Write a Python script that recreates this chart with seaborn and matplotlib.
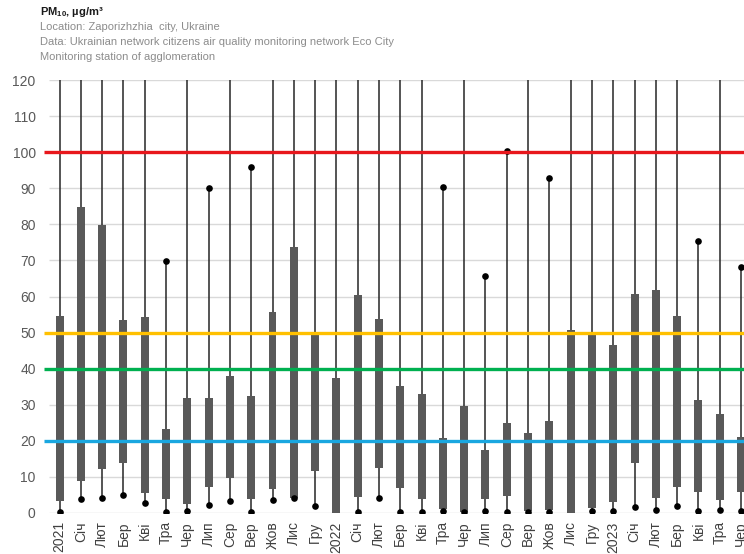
import numpy as np
import pandas as pd
import matplotlib
matplotlib.use("Agg")
import matplotlib.pyplot as plt
import seaborn as sns

# Monthly PM10 statistics, Zaporizhzhia agglomeration station (µg/m³)
periods = ["2021", "Січ", "Лют", "Бер", "Кві", "Тра", "Чер", "Лип", "Сер", "Вер", "Жов", "Лис", "Гру",
           "2022", "Січ", "Лют", "Бер", "Кві", "Тра", "Чер", "Лип", "Сер", "Вер", "Жов", "Лис", "Гру",
           "2023", "Січ", "Лют", "Бер", "Кві", "Тра", "Чер"]
box_low = [3.4, 8.8, 12.2, 13.8, 5.6, 4.0, 2.5, 7.1, 9.6, 3.8, 6.6, 4.2, 11.6,
           0.0, 4.5, 12.4, 7.0, 3.8, 1.1, 0.3, 3.9, 4.7, 0.6, 0.8, 0.0, 1.3,
           3.1, 13.8, 4.2, 7.1, 5.8, 3.6, 5.7]
box_high = [54.6, 84.7, 79.9, 53.5, 54.4, 23.2, 31.9, 31.9, 38.0, 32.5, 55.6, 73.8, 49.8,
            37.3, 60.4, 53.8, 35.1, 33.0, 20.9, 29.7, 17.4, 24.9, 22.1, 25.6, 50.7, 49.3,
            46.6, 60.6, 61.8, 54.7, 31.3, 27.5, 21.0]
minimum = [0.3, 3.8, 4.1, 5.1, 2.9, 0.3, 0.5, 2.2, 3.2, 0.3, 3.6, 4.1, 1.9,
           None, 0.3, 4.2, 0.3, 0.3, 0.5, 0.2, 0.5, 0.2, 0.2, 0.2, None, 0.5,
           0.5, 1.8, 0.8, 1.9, 0.6, 0.7, 0.5]
# None = maximum lies above the 120 µg/m³ axis limit
maximum = [None, None, None, None, None, 69.8, None, 90.1, None, 95.9, None, None, None,
           None, None, None, None, None, 90.3, None, 65.7, 100.2, None, 92.9, None, None,
           None, None, None, None, 75.4, None, 68.2]

limits = [100, 50, 40, 20]
limit_colors = ["#e8171c", "#ffc000", "#00b050", "#1aa7e0"]

slots = [f"{i:02d}" for i in range(len(periods))]
df = pd.DataFrame({
    "slot": slots,
    "low": box_low,
    "span": np.array(box_high) - np.array(box_low),
})

YMAX = 120
XLEFT, XRIGHT = -0.73, 32.14

sns.set_theme(style="white")
plt.rcParams["font.family"] = ["Liberation Sans", "DejaVu Sans"]
plt.rcParams["mathtext.default"] = "regular"

fig = plt.figure(figsize=(7.44, 5.54), dpi=100)
ax = fig.add_axes([44 / 744, 1 - 513 / 554, 700 / 744, (513 - 80) / 554])

# light horizontal grid
ax.hlines(np.arange(0, YMAX + 1, 10), -0.5, XRIGHT, colors="#d9d9d9", lw=1.0, zorder=0)

# min-max whiskers
x_pos = np.arange(len(periods))
w_low = [m if m is not None else lo for m, lo in zip(minimum, box_low)]
w_high = [m if m is not None else YMAX for m in maximum]
ax.vlines(x_pos, w_low, w_high, colors="#262626", lw=1.1, zorder=2)

# inter-quantile boxes
sns.barplot(data=df, x="slot", y="span", order=slots, bottom=df["low"].values,
            width=0.375, color="#595959", saturation=1, errorbar=None,
            linewidth=0, ax=ax, zorder=3)

# extreme-value dots
dots = pd.DataFrame({
    "slot": slots + slots,
    "value": [np.nan if v is None else v for v in minimum] +
             [np.nan if v is None else v for v in maximum],
})
sns.stripplot(data=dots.dropna(), x="slot", y="value", order=slots, jitter=False,
              color="black", size=4.8, linewidth=0, ax=ax, zorder=4)

# limit-value reference lines
for lvl, col in zip(limits, limit_colors):
    ax.hlines(lvl, XLEFT, XRIGHT, colors=col, lw=2.4, zorder=5)

ax.set_xlim(XLEFT, XRIGHT)
ax.set_ylim(0, YMAX)
ax.set_yticks(np.arange(0, YMAX + 1, 10))
ax.set_xticks(x_pos)
ax.set_xticklabels(periods, rotation=90)
ax.set_xlabel("")
ax.set_ylabel("")
ax.tick_params(axis="y", length=0, pad=6, labelsize=10, labelcolor="#595959")
ax.tick_params(axis="x", length=0, pad=6, labelsize=10, labelcolor="#404040")
for s in ax.spines.values():
    s.set_visible(False)

fig.text(40 / 744, 1 - 12 / 554, "PM$_{10}$, µg/m³", fontsize=8, fontweight="bold",
         color="#1a1a1a", va="center", ha="left")
for i, line in enumerate(["Location: Zaporizhzhia  city, Ukraine",
                          "Data: Ukrainian network citizens air quality monitoring network Eco City",
                          "Monitoring station of agglomeration"]):
    fig.text(40 / 744, 1 - (27 + 15 * i) / 554, line, fontsize=8, color="#8c8c8c",
             va="center", ha="left")

fig.savefig("out.png", dpi=100)
